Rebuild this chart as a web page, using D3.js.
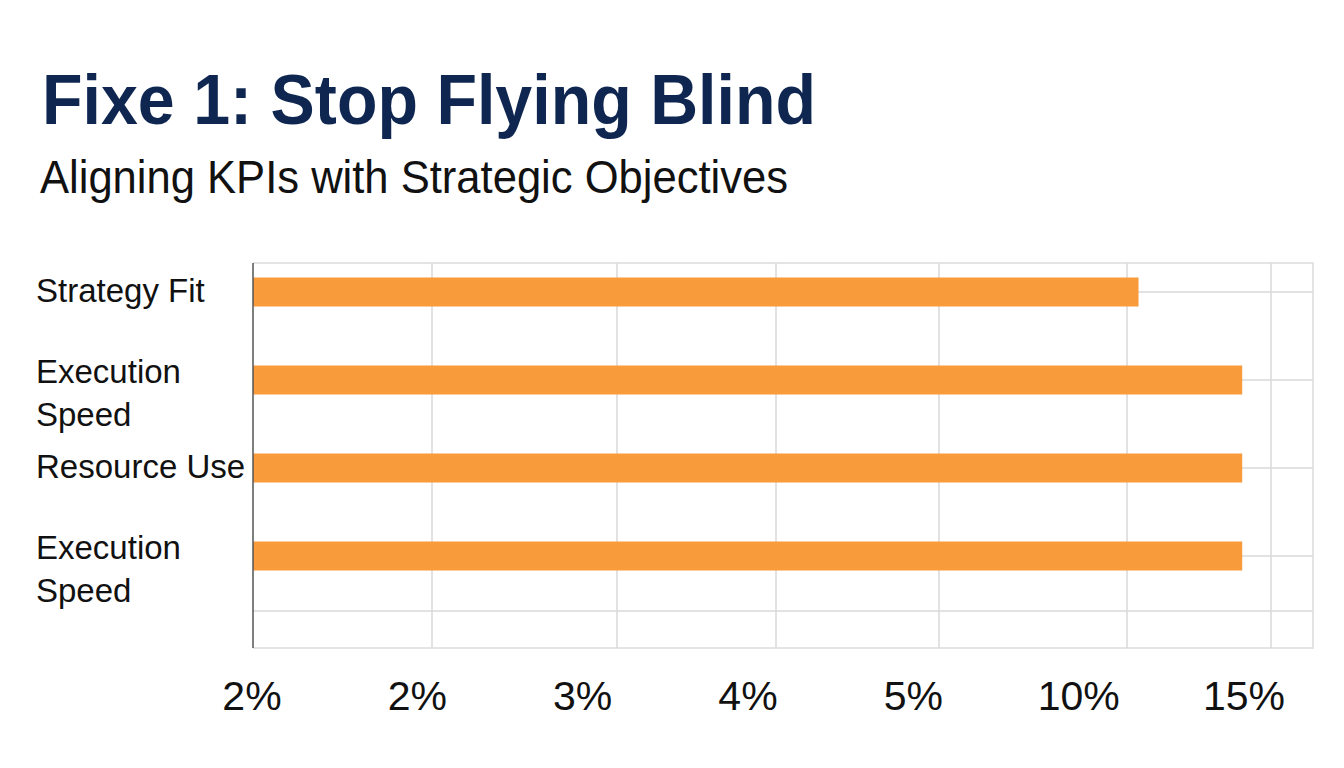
<!DOCTYPE html>
<html>
<head>
<meta charset="utf-8">
<script src="https://cdn.jsdelivr.net/npm/d3@7"></script>
<style>
  html, body { margin: 0; padding: 0; background: #ffffff; }
  svg { display: block; font-family: "Liberation Sans", Arial, sans-serif; }
</style>
</head>
<body>
<svg id="chart" width="1344" height="768"></svg>
<script>
// Horizontal bar chart: KPI alignment with a (non-linear) percent axis.

var categories = ['Strategy Fit', 'Execution Speed', 'Resource Use', 'Execution Speed'];
var values = [10.4, 14.0, 14.0, 14.0];
// tick values (the first one rounds to "2%" on the original)
var tickValues = [1.5, 2, 3, 4, 5, 10, 15];
var tickLabels = ['2%', '2%', '3%', '4%', '5%', '10%', '15%'];

var svg = d3.select('#chart');

var frame = { left: 253, right: 1313, top: 263, bottom: 648 };

// Piecewise x scale: each tick sits on its own gridline
var x = d3.scaleLinear()
    .domain(tickValues)
    .range([253, 432, 617, 776, 939, 1127, 1271]);

// tick labels are spread evenly below the grid
var xLabel = d3.scalePoint()
    .domain(d3.range(tickLabels.length))
    .range([252, 1244]);

var y = d3.scalePoint()
    .domain(d3.range(categories.length))
    .range([248, 600])
    .padding(0.5);

var barHeight = 29;

// Titles
svg.append('text')
    .attr('x', 42)
    .attr('y', 124)
    .attr('textLength', 774)
    .attr('lengthAdjust', 'spacingAndGlyphs')
    .style('font-size', '70px')
    .style('font-weight', 'bold')
    .style('fill', '#0e2650')
    .text('Fixe 1: Stop Flying Blind');

svg.append('text')
    .attr('x', 40)
    .attr('y', 193)
    .attr('textLength', 748)
    .attr('lengthAdjust', 'spacingAndGlyphs')
    .style('font-size', '46px')
    .style('fill', '#111111')
    .text('Aligning KPIs with Strategic Objectives');

// Grid
var grid = svg.append('g').attr('class', 'grid');

grid.selectAll('line.v')
    .data(tickValues.slice(1))
    .enter()
    .append('line')
    .attr('class', 'v')
    .attr('x1', function(d) { return x(d); })
    .attr('x2', function(d) { return x(d); })
    .attr('y1', frame.top)
    .attr('y2', frame.bottom)
    .attr('stroke', '#d8d8d8')
    .attr('stroke-width', 1.5);

// horizontal lines at each row, plus one below the last bar
var hLines = y.domain().map(function(d) { return y(d); });
hLines.push(frame.bottom - 37);

grid.selectAll('line.h')
    .data(hLines)
    .enter()
    .append('line')
    .attr('class', 'h')
    .attr('x1', frame.left)
    .attr('x2', frame.right)
    .attr('y1', function(d) { return d; })
    .attr('y2', function(d) { return d; })
    .attr('stroke', '#d8d8d8')
    .attr('stroke-width', 1.5);

// outer frame (top, right, bottom)
svg.append('path')
    .attr('d', 'M' + frame.left + ',' + frame.top + 'H' + frame.right + 'V' + frame.bottom + 'H' + frame.left)
    .attr('fill', 'none')
    .attr('stroke', '#dcdcdc')
    .attr('stroke-width', 1.5);

// Bars
svg.selectAll('rect.bar')
    .data(values)
    .enter()
    .append('rect')
    .attr('class', 'bar')
    .attr('x', x(tickValues[0]))
    .attr('y', function(d, i) { return y(i) - barHeight / 2; })
    .attr('width', function(d) { return x(d) - x(tickValues[0]); })
    .attr('height', barHeight)
    .attr('fill', '#f89b3b');

// y axis line
svg.append('line')
    .attr('x1', frame.left)
    .attr('x2', frame.left)
    .attr('y1', frame.top)
    .attr('y2', frame.bottom)
    .attr('stroke', '#555555')
    .attr('stroke-width', 1.5);

// Category labels (wrapped onto two lines when they contain a space, except short ones)
var catLabels = svg.selectAll('text.cat')
    .data(categories)
    .enter()
    .append('text')
    .attr('class', 'cat')
    .attr('x', 36)
    .style('font-size', '33px')
    .style('fill', '#111111');

catLabels.each(function(d, i) {
    var t = d3.select(this);
    if (d === 'Execution Speed') {
        var words = d.split(' ');
        t.attr('y', y(i) + 3);
        t.append('tspan').attr('x', 36).text(words[0]);
        t.append('tspan').attr('x', 36).attr('dy', 43).text(words[1]);
    } else {
        t.attr('y', y(i) + 10).text(d);
    }
});

// x tick labels
svg.selectAll('text.tick')
    .data(tickLabels)
    .enter()
    .append('text')
    .attr('class', 'tick')
    .attr('x', function(d, i) { return xLabel(i); })
    .attr('y', 710)
    .attr('text-anchor', 'middle')
    .style('font-size', '41px')
    .style('fill', '#111111')
    .text(function(d) { return d; });
</script>
</body>
</html>
